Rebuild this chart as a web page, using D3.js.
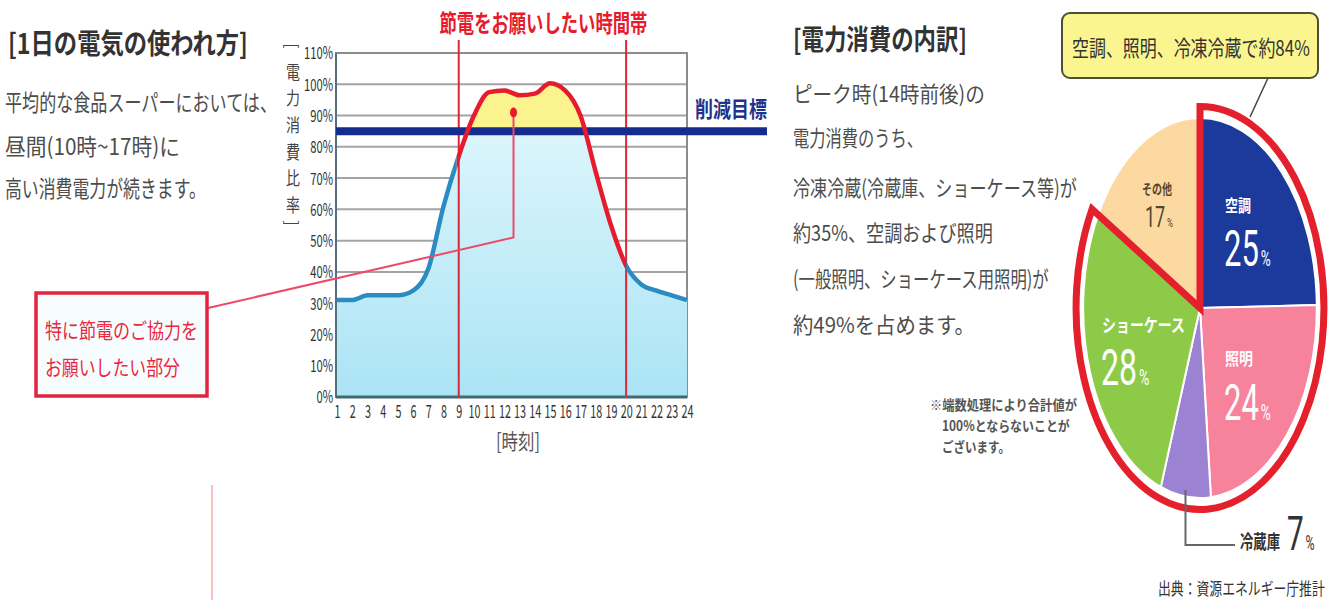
<!DOCTYPE html>
<html>
<head>
<meta charset="utf-8">
<script src="https://cdn.jsdelivr.net/npm/d3@7"></script>
<style>
  html, body { margin: 0; padding: 0; background: #fff; }
  svg { display: block; font-family: "Noto Sans CJK JP", "Noto Sans", sans-serif; }
</style>
</head>
<body>
<svg id="chart" width="1338" height="604"></svg>
<script>
// ---- data -------------------------------------------------------------
// hourly electricity use of a typical supermarket, % of the daily peak
const hours = [1, 2, 3, 4, 5, 6, 7, 8, 9, 10, 11, 12, 13, 14, 15, 16, 17, 18, 19, 20, 21, 22, 23, 24];
const usage = [31, 31, 32.5, 32.5, 32.5, 34, 41, 61, 77, 90, 97.5, 98, 96.5, 97, 100.3, 98, 90, 72, 55, 42, 36, 34, 32.5, 31];
const yTicks = [0, 10, 20, 30, 40, 50, 60, 70, 80, 90, 100, 110];
const targetLevel = 85;          // 削減目標
const peakWindow = [9, 20];      // 節電をお願いしたい時間帯

// breakdown of consumption at peak time (%)
const breakdownLabels = ["空調", "照明", "冷蔵庫", "ショーケース", "その他"];
const breakdownValues = [25, 24, 7, 28, 17];

// ---- styles -----------------------------------------------------------
const sliceColors = ["#1c3a9c", "#f6829c", "#9c82d2", "#8dca47", "#fdd9a2"];
const RED = "#e61c2e";
const NUM_FONT = "Roboto, 'Liberation Sans', sans-serif";

const svg = d3.select("#chart");
const defs = svg.append("defs");

// text squeezed horizontally to a given width (the artwork uses condensed type)
function label(parent, str, x, y, o = {}) {
  const g = parent.append("g").attr("transform", `translate(${x},${y})`);
  const t = g.append("text")
    .attr("x", 0).attr("y", 0)
    .attr("font-size", o.size || 16)
    .attr("fill", o.color || "#333")
    .attr("font-weight", o.weight || 400)
    .attr("text-anchor", o.anchor || "start")
    .attr("dominant-baseline", o.baseline || "central")
    .text(str);
  if (o.w) {
    const natural = t.node().getComputedTextLength();
    if (natural > 0) g.attr("transform", `translate(${x},${y}) scale(${o.w / natural},1)`);
  }
  return g;
}

// big number with a small "%" sign, squeezed horizontally
function percent(parent, num, x, baseline, big, small, sx, color) {
  const g = parent.append("g").attr("transform", `translate(${x},${baseline}) scale(${sx},1)`);
  const t = g.append("text").attr("fill", color).attr("dominant-baseline", "alphabetic")
    .attr("font-family", NUM_FONT);
  t.append("tspan").attr("font-size", big).text(num);
  t.append("tspan").attr("font-size", small).attr("dx", 3).text("%");
}

// ---- left text block --------------------------------------------------
label(svg, "[1日の電気の使われ方]", 8, 42, { size: 28, weight: 700, color: "#333", w: 240 });
label(svg, "平均的な食品スーパーにおいては、", 5, 101, { size: 23, color: "#4d4d4d", w: 272 });
label(svg, "昼間(10時~17時)に", 5, 145, { size: 23, color: "#4d4d4d", w: 175 });
label(svg, "高い消費電力が続きます。", 5, 187, { size: 23, color: "#4d4d4d", w: 201 });

// ---- line / area chart ------------------------------------------------
const x = d3.scaleLinear().domain([1, 24]).range([337, 687]);
const y = d3.scaleLinear().domain([0, 110]).range([397, 53]);
const series = hours.map((h, i) => ({ h, v: usage[i] }));
const plotL = 336, plotR = 687;

const grad = defs.append("linearGradient").attr("id", "areaFill")
  .attr("x1", 0).attr("y1", 0).attr("x2", 0).attr("y2", 1);
grad.append("stop").attr("offset", "0%").attr("stop-color", "#e4f8fd");
grad.append("stop").attr("offset", "100%").attr("stop-color", "#abe4f5");

defs.append("clipPath").attr("id", "aboveTarget").append("rect")
  .attr("x", plotL).attr("y", 0).attr("width", plotR - plotL).attr("height", y(targetLevel));
defs.append("clipPath").attr("id", "inWindow").append("rect")
  .attr("x", x(peakWindow[0]) - 2).attr("y", 0)
  .attr("width", x(peakWindow[1]) - x(peakWindow[0]) + 2).attr("height", 604);
const outside = defs.append("clipPath").attr("id", "outWindow");
outside.append("rect").attr("x", 0).attr("y", 0).attr("width", x(peakWindow[0]) - 2).attr("height", 604);
outside.append("rect").attr("x", x(peakWindow[1])).attr("y", 0).attr("width", 700).attr("height", 604);

const chart = svg.append("g");

// horizontal grid
chart.append("g").selectAll("line")
  .data(yTicks.filter(t => t > 0 && t < 110)).join("line")
  .attr("x1", plotL).attr("x2", plotR)
  .attr("y1", d => y(d)).attr("y2", d => y(d))
  .attr("stroke", "#a4a4a4").attr("stroke-width", 2);

// frame
chart.append("rect")
  .attr("x", plotL).attr("y", y(110))
  .attr("width", plotR - plotL).attr("height", y(0) - y(110))
  .attr("fill", "none").attr("stroke", "#8c8c8c").attr("stroke-width", 2);

// area under the curve
const area = d3.area().x(d => x(d.h)).y0(y(0)).y1(d => y(d.v)).curve(d3.curveMonotoneX);
chart.append("path").datum(series).attr("d", area).attr("fill", "url(#areaFill)");

// excess over the target
const excess = d3.area().x(d => x(d.h)).y0(y(targetLevel)).y1(d => y(d.v)).curve(d3.curveMonotoneX);
chart.append("path").datum(series).attr("d", excess)
  .attr("fill", "#fbf48e").attr("clip-path", "url(#aboveTarget)");

// axes lines
chart.append("line").attr("x1", plotL).attr("x2", plotL).attr("y1", y(110)).attr("y2", y(0))
  .attr("stroke", "#56707a").attr("stroke-width", 2);
chart.append("line").attr("x1", plotL).attr("x2", plotR).attr("y1", y(0)).attr("y2", y(0))
  .attr("stroke", "#3f6a72").attr("stroke-width", 3);

// request window
chart.append("g").selectAll("line").data(peakWindow).join("line")
  .attr("x1", d => x(d)).attr("x2", d => x(d))
  .attr("y1", 40).attr("y2", y(0))
  .attr("stroke", "#d8283a").attr("stroke-width", 2);
label(chart, "節電をお願いしたい時間帯", (x(peakWindow[0]) + x(peakWindow[1])) / 2 + 1, 22,
  { size: 24, weight: 700, color: RED, anchor: "middle", w: 208 });

// target line
chart.append("line").attr("x1", plotL).attr("x2", 767)
  .attr("y1", y(targetLevel)).attr("y2", y(targetLevel))
  .attr("stroke", "#142c8e").attr("stroke-width", 8);
label(chart, "削減目標", 695, 108, { size: 22, weight: 700, color: "#23328c", w: 72 });

// consumption curve: blue outside the window, red inside
const line = d3.line().x(d => x(d.h)).y(d => y(d.v)).curve(d3.curveMonotoneX);
chart.append("path").datum(series).attr("d", line)
  .attr("fill", "none").attr("stroke", "#2a8cc2").attr("stroke-width", 4.5)
  .attr("clip-path", "url(#outWindow)");
chart.append("path").datum(series).attr("d", line)
  .attr("fill", "none").attr("stroke", RED).attr("stroke-width", 4.5)
  .attr("stroke-linejoin", "round").attr("clip-path", "url(#inWindow)");

// y axis
const yAxis = chart.append("g").attr("transform", "translate(333,0)")
  .call(d3.axisLeft(y).tickValues(yTicks).tickFormat(d => d + "%").tickSize(0));
yAxis.select(".domain").remove();
yAxis.selectAll("text")
  .attr("x", 0).attr("dy", "0.35em")
  .attr("transform", "scale(0.66,1)")
  .attr("font-size", 17).attr("fill", "#333")
  .attr("font-family", '"Noto Sans CJK JP", sans-serif');

// x axis
const xAxis = chart.append("g").attr("transform", `translate(0,${y(0)})`)
  .call(d3.axisBottom(x).tickValues(hours).tickFormat(d => d).tickSize(0));
xAxis.select(".domain").remove();
xAxis.selectAll("text")
  .attr("y", 15).attr("dy", "0.35em")
  .attr("transform", "scale(0.6,1)")
  .attr("font-size", 18).attr("fill", "#333")
  .attr("font-family", '"Noto Sans CJK JP", sans-serif');

label(chart, "[時刻]", 518, 440, { size: 21, color: "#555", anchor: "middle", w: 44 });

// vertical axis title, one character per line
const yTitle = ["電", "力", "消", "費", "比", "率"];
const yTitleTop = 71, yTitleStep = 26.6;
yTitle.forEach((c, i) => label(chart, c, 293, yTitleTop + i * yTitleStep,
  { size: 18, color: "#444", anchor: "middle", w: 14 }));
[["[", 46], ["]", 223]].forEach(([c, yy]) => {
  chart.append("text")
    .attr("transform", `translate(293,${yy}) rotate(90)`)
    .attr("text-anchor", "middle").attr("dominant-baseline", "central")
    .attr("font-size", 16).attr("fill", "#444")
    .text(c);
});

// call-out for the part above the target
const calloutHour = 12.6;
chart.append("path")
  .attr("d", `M208,308 L${x(calloutHour)},${y(51)} L${x(calloutHour)},${y(91)}`)
  .attr("fill", "none").attr("stroke", "#ee4a68").attr("stroke-width", 2);
chart.append("ellipse").attr("cx", x(calloutHour)).attr("cy", y(91))
  .attr("rx", 3.5).attr("ry", 5).attr("fill", RED);

svg.append("rect").attr("x", 36).attr("y", 293).attr("width", 171).attr("height", 103)
  .attr("fill", "#f7fdff").attr("stroke", "#e3233f").attr("stroke-width", 3.5);
label(svg, "特に節電のご協力を", 45, 329, { size: 21, color: "#e8283c", w: 153 });
label(svg, "お願いしたい部分", 45, 366, { size: 21, color: "#e8283c", w: 135 });

svg.append("line").attr("x1", 212).attr("x2", 212).attr("y1", 485).attr("y2", 600)
  .attr("stroke", "#f08080").attr("stroke-width", 1);

// ---- right text block -------------------------------------------------
label(svg, "[電力消費の内訳]", 793, 38, { size: 28, weight: 700, color: "#333", w: 174 });
const bodyLines = [
  ["ピーク時(14時前後)の", 93, 192],
  ["電力消費のうち、", 137, 130],
  ["冷凍冷蔵(冷蔵庫、ショーケース等)が", 187, 284],
  ["約35%、空調および照明", 232, 200],
  ["(一般照明、ショーケース用照明)が", 278, 256],
  ["約49%を占めます。", 323, 182]
];
bodyLines.forEach(([s, yy, w]) => label(svg, s, 793, yy, { size: 22, color: "#4d4d4d", w }));

label(svg, "※端数処理により合計値が", 930, 404, { size: 14, color: "#555", weight: 700, w: 147 });
label(svg, "100%とならないことが", 942, 425, { size: 14, color: "#555", weight: 700, w: 128 });
label(svg, "ございます。", 942, 446, { size: 14, color: "#555", weight: 700, w: 68 });

label(svg, "出典：資源エネルギー庁推計", 1158, 588, { size: 17, color: "#333", w: 167 });

// ---- pie chart --------------------------------------------------------
const cx = 1200, cy = 308, R = 190, squeeze = 0.615;
const pie = d3.pie().sort(null).value(d => d);
const arcs = pie(breakdownValues);
const arc = d3.arc().innerRadius(0).outerRadius(R);

const pg = svg.append("g").attr("transform", `translate(${cx},${cy}) scale(${squeeze},1)`);
pg.selectAll("path.slice").data(arcs).join("path")
  .attr("class", "slice")
  .attr("d", arc)
  .attr("fill", (d, i) => sliceColors[i])
  .attr("stroke", "#fff").attr("stroke-width", 2)
  .attr("vector-effect", "non-scaling-stroke");

// outline around 空調 + 照明 + 冷蔵庫 + ショーケース
pg.append("path")
  .attr("d", d3.arc()({ innerRadius: 0, outerRadius: R + 11.5, startAngle: 0, endAngle: arcs[3].endAngle }))
  .attr("fill", "none").attr("stroke", "#e4202c").attr("stroke-width", 7)
  .attr("stroke-linejoin", "miter")
  .attr("vector-effect", "non-scaling-stroke");

// slice labels
label(svg, breakdownLabels[0], 1225, 204, { size: 17, weight: 700, color: "#fff", w: 26 });
percent(svg, breakdownValues[0], 1224, 266, 50, 22, 0.62, "#fff");
label(svg, breakdownLabels[1], 1225, 357, { size: 17, weight: 700, color: "#fff", w: 28 });
percent(svg, breakdownValues[1], 1224, 420, 50, 22, 0.62, "#fff");
label(svg, breakdownLabels[3], 1102, 324, { size: 18, weight: 700, color: "#fff", w: 83 });
percent(svg, breakdownValues[3], 1101, 385, 50, 22, 0.64, "#fff");
label(svg, breakdownLabels[4], 1142, 188, { size: 14, weight: 700, color: "#54462e", w: 30 });
percent(svg, breakdownValues[4], 1145, 227, 29, 13, 0.62, "#54462e");

// 冷蔵庫 is labelled outside with a leader line
const fridgeMid = (arcs[2].startAngle + arcs[2].endAngle) / 2;
const leaderX = cx + Math.sin(fridgeMid) * R * squeeze;
svg.append("path")
  .attr("d", `M${leaderX},${cy + R - 8} L${leaderX},545 L1235,545`)
  .attr("fill", "none").attr("stroke", "#666").attr("stroke-width", 2);
label(svg, breakdownLabels[2], 1240, 541, { size: 19, weight: 700, color: "#333", w: 40 });
percent(svg, breakdownValues[2], 1287, 550, 48, 20, 0.62, "#333");

// summary call-out
svg.append("line").attr("x1", 1268).attr("y1", 78).attr("x2", 1250).attr("y2", 117)
  .attr("stroke", "#444").attr("stroke-width", 1.5);
svg.append("rect").attr("x", 1062).attr("y", 13).attr("width", 256).attr("height", 65)
  .attr("rx", 8).attr("fill", "#faf58e").attr("stroke", "#4f4f36").attr("stroke-width", 2);
label(svg, "空調、照明、冷凍冷蔵で約84%", 1072, 46, { size: 22, color: "#333", w: 238 });
</script>
</body>
</html>
